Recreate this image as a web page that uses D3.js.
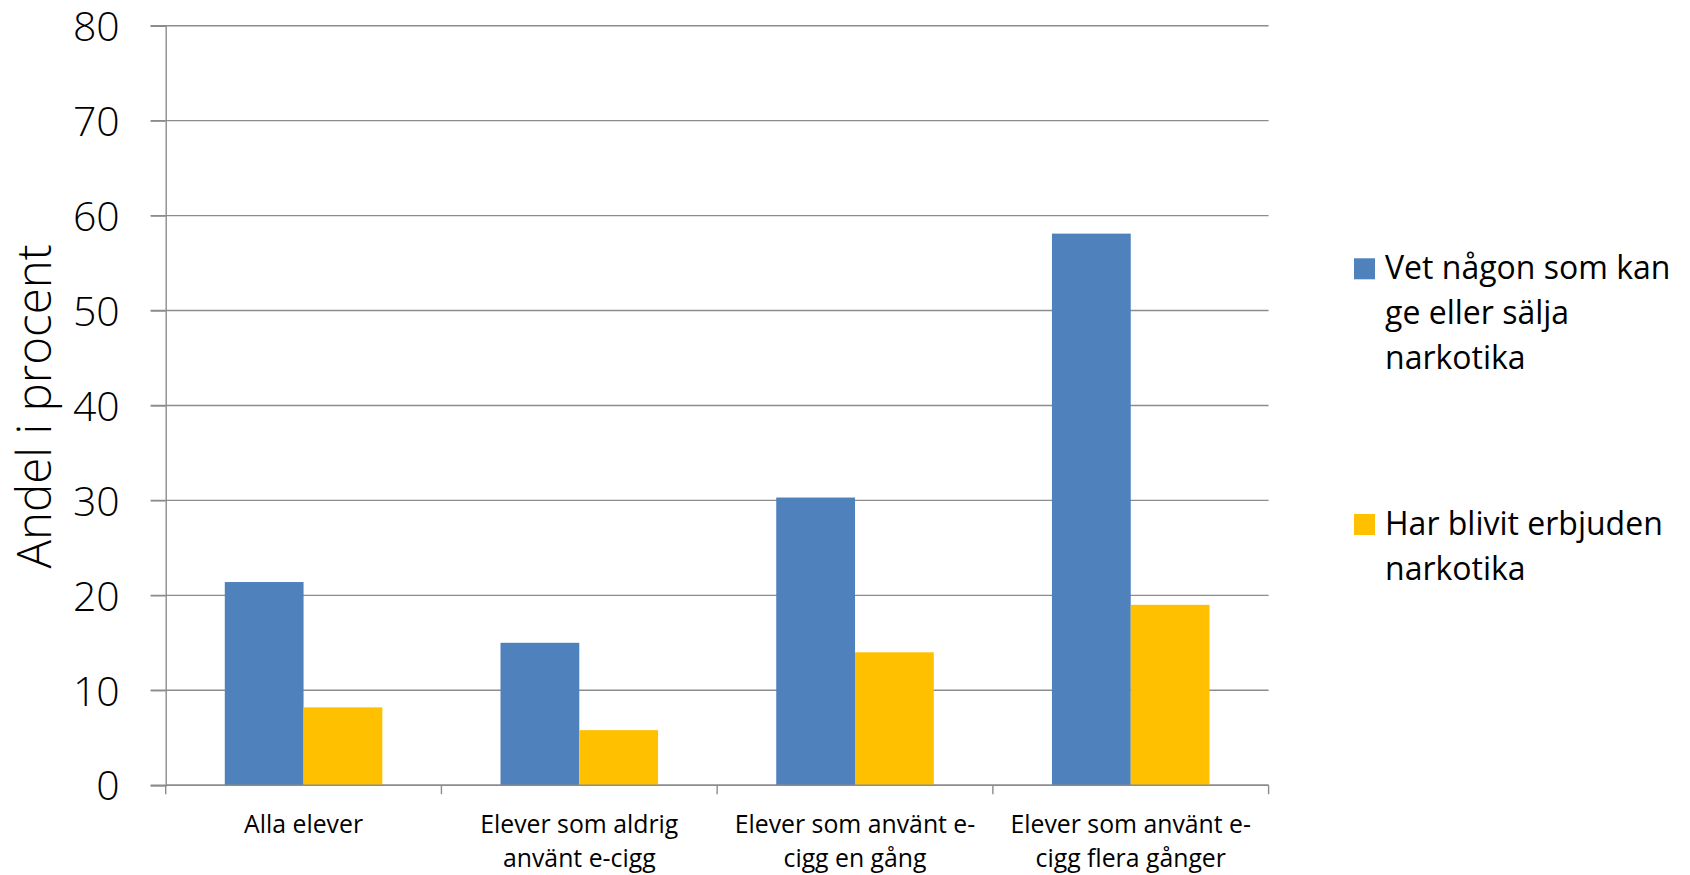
<!DOCTYPE html>
<html>
<head>
<meta charset="utf-8">
<script src="https://cdn.jsdelivr.net/npm/d3@7"></script>
<style>
  html, body { margin: 0; padding: 0; background: #ffffff; }
  svg { display: block; font-family: "Open Sans", sans-serif; }
</style>
</head>
<body>
<svg id="chart" width="1690" height="875"></svg>
<script>
// ---- data ----
const categories = [
  ["Alla elever"],
  ["Elever som aldrig", "använt e-cigg"],
  ["Elever som använt e-", "cigg en gång"],
  ["Elever som använt e-", "cigg flera gånger"]
];
const seriesNames = [
  ["Vet någon som kan", "ge eller sälja", "narkotika"],
  ["Har blivit erbjuden", "narkotika"]
];
const valuesKnow = [21.4, 15.0, 30.3, 58.1];
const valuesOffered = [8.2, 5.8, 14.0, 19.0];
const yTicks = [0, 10, 20, 30, 40, 50, 60, 70, 80];
const yTitle = "Andel i procent";

// ---- layout ----
(function () {
const svg = d3.select("#chart");
const pLeft = 165.7, pRight = 1268.6, pTop = 25.7, pBottom = 785.2;
const colors = ["#4F81BD", "#FFC000"];
const gridColor = "#8c8c8c";

const catIdx = categories.map((d, i) => i);
const x0 = d3.scaleBand().domain(catIdx).range([pLeft, pRight]).padding(0);
const bw = x0.bandwidth();
const x1 = d3.scaleBand().domain([0, 1]).range([bw * 1.5 / 7, bw * 5.5 / 7]).padding(0);
const y = d3.scaleLinear().domain([0, 80]).range([pBottom, pTop]);

// gridlines
svg.append("g").selectAll("line").data(yTicks).join("line")
  .attr("x1", pLeft - 15).attr("x2", pRight)
  .attr("y1", d => y(d)).attr("y2", d => y(d))
  .attr("stroke", gridColor).attr("stroke-width", 1.4);

// y axis
const yAxis = svg.append("g").attr("transform", `translate(${pLeft},0)`)
  .call(d3.axisLeft(y).tickValues(yTicks).tickSize(15).tickPadding(31));
yAxis.select(".domain").attr("stroke", gridColor).attr("stroke-width", 1.4);
yAxis.selectAll(".tick line").attr("stroke", gridColor).attr("stroke-width", 1.4);
yAxis.selectAll(".tick text")
  .attr("font-family", "Open Sans").attr("font-weight", 300)
  .attr("font-size", 41).attr("fill", "#000").attr("dy", "0.36em");

// bars
const data = catIdx.map(i => [valuesKnow[i], valuesOffered[i]]);
const groups = svg.append("g").selectAll("g").data(data).join("g")
  .attr("transform", (d, i) => `translate(${x0(i)},0)`);
groups.selectAll("rect").data(d => d).join("rect")
  .attr("x", (d, j) => x1(j))
  .attr("width", x1.bandwidth())
  .attr("y", d => y(d))
  .attr("height", d => y(0) - y(d))
  .attr("fill", (d, j) => colors[j]);

// x axis
const xTickPos = catIdx.map(i => x0(i)).concat([pRight]);
svg.append("g").selectAll("line").data(xTickPos).join("line")
  .attr("x1", d => d).attr("x2", d => d)
  .attr("y1", pBottom).attr("y2", pBottom + 9)
  .attr("stroke", gridColor).attr("stroke-width", 1.4);
svg.append("line").attr("x1", pLeft).attr("x2", pRight)
  .attr("y1", pBottom).attr("y2", pBottom)
  .attr("stroke", gridColor).attr("stroke-width", 1.4);

// category labels
const labels = svg.append("g").selectAll("g").data(categories).join("g")
  .attr("transform", (d, i) => `translate(${x0(i) + bw / 2},832.7)`);
labels.selectAll("text").data(d => d).join("text")
  .attr("x", 0).attr("y", (d, k) => k * 34)
  .attr("text-anchor", "middle")
  .attr("font-size", 24.8).attr("fill", "#000")
  .text(d => d);

// y title
svg.append("text")
  .attr("transform", `translate(51,${(pTop + pBottom) / 2 + 1}) rotate(-90)`)
  .attr("text-anchor", "middle")
  .attr("font-size", 47.5).attr("font-weight", 300).attr("fill", "#000")
  .text(yTitle);

// legend
const legendY = [258.3, 514];
const legend = svg.append("g").selectAll("g").data(seriesNames).join("g")
  .attr("transform", (d, i) => `translate(1354,${legendY[i]})`);
legend.append("rect").attr("width", 21).attr("height", 21)
  .attr("fill", (d, i) => colors[i]);
legend.selectAll("text").data(d => d).join("text")
  .attr("x", 31).attr("y", (d, k) => 21 + k * 44.7)
  .attr("font-size", 32).attr("fill", "#000")
  .text(d => d);
})();
</script>
</body>
</html>
